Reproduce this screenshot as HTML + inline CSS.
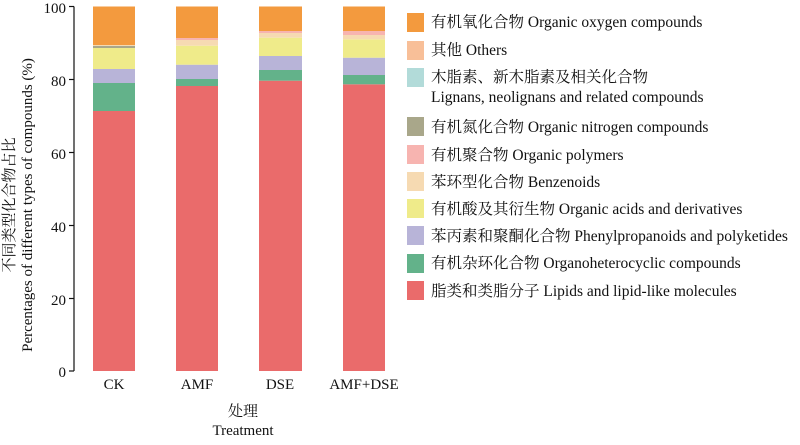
<!DOCTYPE html>
<html><head><meta charset="utf-8"><style>
body{margin:0;background:#fff}
text{font-family:"Liberation Serif","Noto Serif CJK SC",serif;fill:#111}
</style></head><body>
<svg width="800" height="440" xmlns="http://www.w3.org/2000/svg">
<rect width="800" height="440" fill="#fff"/>
<line x1="74" y1="6.5" x2="74" y2="371" stroke="#111" stroke-width="1.2"/>
<g stroke="#111" stroke-width="1.2">
<line x1="69" y1="6.5" x2="74" y2="6.5"/><line x1="69" y1="79.5" x2="74" y2="79.5"/><line x1="69" y1="152.5" x2="74" y2="152.5"/><line x1="69" y1="225.5" x2="74" y2="225.5"/><line x1="69" y1="298.5" x2="74" y2="298.5"/><line x1="69" y1="371" x2="74" y2="371"/>
</g>
<g font-size="15" text-anchor="end">
<text x="66" y="13">100</text><text x="66" y="86">80</text><text x="66" y="159">60</text><text x="66" y="232">40</text><text x="66" y="305">20</text><text x="66" y="377">0</text>
</g>
<g font-size="15" text-anchor="middle">
<text x="114" y="389">CK</text><text x="197" y="389">AMF</text><text x="280" y="389">DSE</text><text x="364" y="389">AMF+DSE</text>
<text x="243" y="416">处理</text><text x="243" y="435">Treatment</text>
</g>
<g font-size="15" text-anchor="middle">
<text transform="translate(14,205) rotate(-90)">不同类型化合物占比</text>
<text transform="translate(32,205) rotate(-90)">Percentages of different types of compounds (%)</text>
</g>
<g font-size="15.5">
<rect x="407" y="13" width="17" height="19" fill="#F39A3E"/><text x="431" y="27">有机氧化合物 Organic oxygen compounds</text>
<rect x="407" y="41" width="17" height="19" fill="#F8BF98"/><text x="431" y="55">其他 Others</text>
<rect x="407" y="68" width="17" height="19" fill="#B2DBD9"/><text x="431" y="82">木脂素、新木脂素及相关化合物</text><text x="431" y="102">Lignans, neolignans and related compounds</text>
<rect x="407" y="117" width="17" height="19" fill="#A9A78A"/><text x="431" y="132">有机氮化合物 Organic nitrogen compounds</text>
<rect x="407" y="145" width="17" height="19" fill="#F7B4B0"/><text x="431" y="160">有机聚合物 Organic polymers</text>
<rect x="407" y="172" width="17" height="19" fill="#F6DAB2"/><text x="431" y="187">苯环型化合物 Benzenoids</text>
<rect x="407" y="199" width="17" height="19" fill="#EFEB8A"/><text x="431" y="214">有机酸及其衍生物 Organic acids and derivatives</text>
<rect x="407" y="226" width="17" height="19" fill="#B8B4D8"/><text x="431" y="241">苯丙素和聚酮化合物 Phenylpropanoids and polyketides</text>
<rect x="407" y="254" width="17" height="19" fill="#63B28A"/><text x="431" y="268">有机杂环化合物 Organoheterocyclic compounds</text>
<rect x="407" y="281" width="17" height="19" fill="#EA6B6B"/><text x="431" y="296">脂类和类脂分子 Lipids and lipid-like molecules</text>
</g>
<g>
<rect x="93" y="111" width="42" height="260" fill="#EA6B6B"/>
<rect x="93" y="83" width="42" height="28" fill="#63B28A"/>
<rect x="93" y="69" width="42" height="14" fill="#B8B4D8"/>
<rect x="93" y="48" width="42" height="21" fill="#EFEB8A"/>
<rect x="93" y="46" width="42" height="2" fill="#A9A78A"/>
<rect x="93" y="45" width="42" height="1" fill="#F6DAB2"/>
<rect x="93" y="6.5" width="42" height="38.5" fill="#F39A3E"/>
<rect x="176" y="86" width="42" height="285" fill="#EA6B6B"/>
<rect x="176" y="79" width="42" height="7" fill="#63B28A"/>
<rect x="176" y="64.7" width="42" height="14.3" fill="#B8B4D8"/>
<rect x="176" y="45.7" width="42" height="19" fill="#EFEB8A"/>
<rect x="176" y="40" width="42" height="5.7" fill="#F6DAB2"/>
<rect x="176" y="38" width="42" height="2" fill="#F7B4B0"/>
<rect x="176" y="6.5" width="42" height="31.5" fill="#F39A3E"/>
<rect x="259" y="80.7" width="43" height="290.3" fill="#EA6B6B"/>
<rect x="259" y="70" width="43" height="10.7" fill="#63B28A"/>
<rect x="259" y="56" width="43" height="14" fill="#B8B4D8"/>
<rect x="259" y="37.7" width="43" height="18.3" fill="#EFEB8A"/>
<rect x="259" y="33" width="43" height="4.7" fill="#F6DAB2"/>
<rect x="259" y="31" width="43" height="2" fill="#F7B4B0"/>
<rect x="259" y="6.5" width="43" height="24.5" fill="#F39A3E"/>
<rect x="343" y="84.3" width="42" height="286.7" fill="#EA6B6B"/>
<rect x="343" y="75" width="42" height="9.3" fill="#63B28A"/>
<rect x="343" y="57.7" width="42" height="17.3" fill="#B8B4D8"/>
<rect x="343" y="39.3" width="42" height="18.4" fill="#EFEB8A"/>
<rect x="343" y="35" width="42" height="4.3" fill="#F6DAB2"/>
<rect x="343" y="31" width="42" height="4" fill="#F7B4B0"/>
<rect x="343" y="6.5" width="42" height="24.5" fill="#F39A3E"/>
</g>
</svg>
</body></html>
